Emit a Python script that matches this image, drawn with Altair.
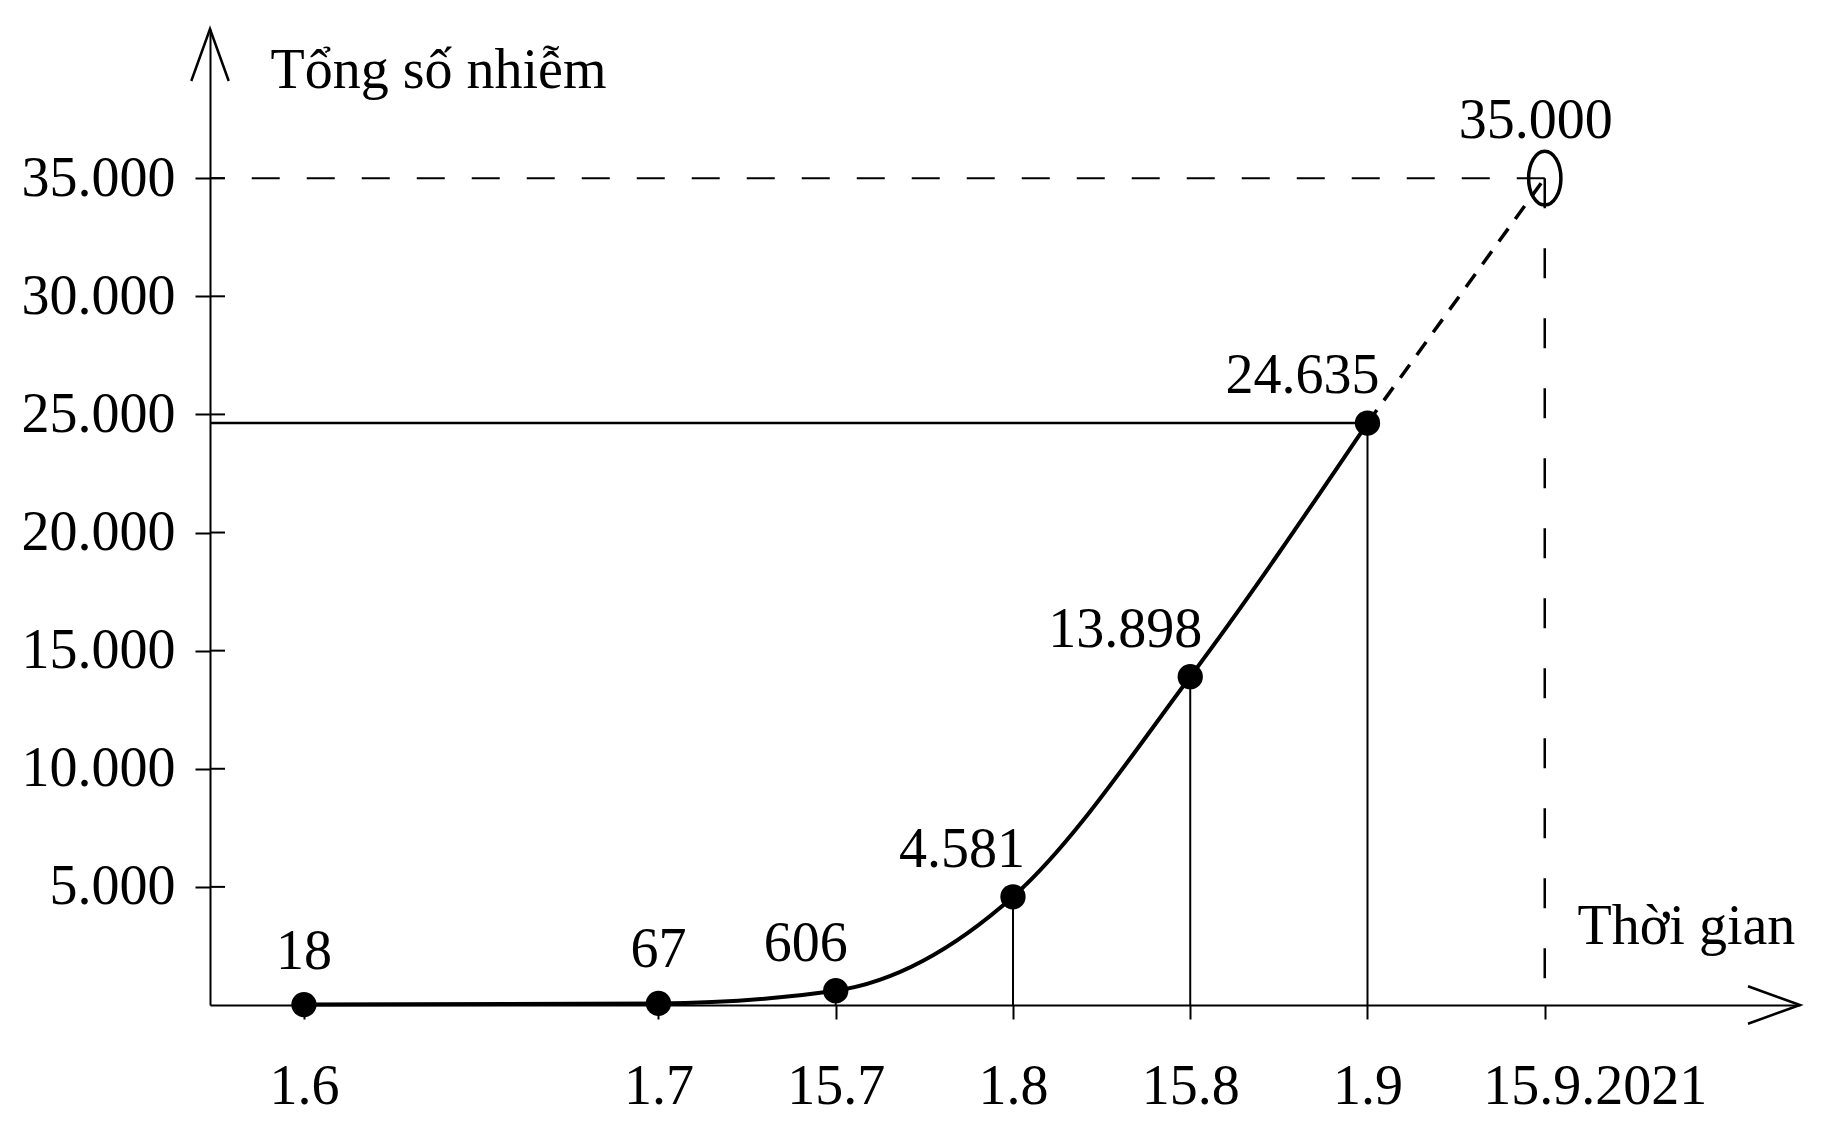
import altair as alt
import pandas as pd

# ---- data ----
dates = ["1.6", "1.7", "15.7", "1.8", "15.8", "1.9"]
slots = [0, 2, 3, 4, 5, 6]          # x slot of each date on the drawn time axis
cases = [18, 67, 606, 4581, 13898, 24635]
proj_date = "15.9.2021"
proj_slot = 7
proj_cases = 35000
y_ticks = [5000, 10000, 15000, 20000, 25000, 30000, 35000]
y_title = "Tổng số nhiễm"
x_title = "Thời gian"

FONT = "Liberation Serif"
FS = 56


def fmt(v):
    return f"{v:,}".replace(",", ".")


main = pd.DataFrame({"date": dates, "slot": slots, "cases": cases,
                     "label": [fmt(v) for v in cases]})
proj = pd.DataFrame({"slot": [slots[-1], proj_slot], "cases": [cases[-1], proj_cases]})
end = pd.DataFrame({"slot": [proj_slot], "cases": [proj_cases], "label": [fmt(proj_cases)]})
peak = main.tail(1)
yt = pd.DataFrame({"cases": y_ticks})
one = pd.DataFrame({"a": [0]})

all_slots = slots + [proj_slot]
all_labels = dates + [proj_date]
lab_arr = [""] * (max(all_slots) + 1)
for s, l in zip(all_slots, all_labels):
    lab_arr[s] = l
x_label_expr = "[" + ",".join("'" + l + "'" for l in lab_arr) + "][datum.value]"

xs = alt.Scale(domain=[-0.53, 8.44], nice=False, zero=False)
ys = alt.Scale(domain=[0, 41315], nice=False, zero=False)

x_axis = alt.Axis(values=all_slots, labelExpr=x_label_expr, grid=False,
                  tickSize=14, tickWidth=2, tickColor="black",
                  domainColor="black", domainWidth=2,
                  labelFont=FONT, labelFontSize=FS, labelColor="black",
                  labelPadding=40, labelFlush=False, labelOverlap=False,
                  labelLimit=0,
                  labelOffset={"condition": {"test": f"datum.value == {proj_slot}",
                                             "value": 50},
                               "value": 0},
                  title=x_title, titleFont=FONT, titleFontSize=FS,
                  titleFontWeight="normal", titleColor="black",
                  titleAngle=0, titleAlign="left", titleBaseline="alphabetic",
                  titleX=1367, titleY=-62)
y_axis = alt.Axis(values=y_ticks,
                  labelExpr="replace(format(datum.value, ','), ',', '.')",
                  grid=False, tickSize=15, tickWidth=2, tickColor="black",
                  domainColor="black", domainWidth=2,
                  labelFont=FONT, labelFontSize=FS, labelColor="black",
                  labelPadding=20, labelFlush=False, labelOverlap=False,
                  labelLimit=0,
                  title=y_title, titleFont=FONT, titleFontSize=FS,
                  titleFontWeight="normal", titleColor="black",
                  titleAngle=0, titleAlign="left", titleBaseline="alphabetic",
                  titleX=60, titleY=58)

X = alt.X("slot:Q", scale=xs, axis=x_axis)
Y = alt.Y("cases:Q", scale=ys, axis=y_axis)

curve = alt.Chart(main).mark_line(color="black", strokeWidth=4,
                                  interpolate="monotone").encode(x=X, y=Y)

proj_line = alt.Chart(proj).mark_line(color="black", strokeWidth=3.5,
                                      strokeDash=[16, 12]).encode(x=X, y=Y)

drops = alt.Chart(main).mark_rule(color="black", strokeWidth=2).encode(
    x=X, y=Y, y2=alt.datum(0))

hline = alt.Chart(peak).mark_rule(color="black", strokeWidth=2.5).encode(
    x=X, x2=alt.value(0), y=Y)

dash_h = alt.Chart(end).mark_rule(color="black", strokeWidth=2,
                                  strokeDash=[28, 27]).encode(
    x=X, x2=alt.value(0), y=Y)

dash_v = alt.Chart(end).mark_rule(color="black", strokeWidth=2.5,
                                  strokeDash=[30, 40]).encode(
    x=X, y=Y, y2=alt.datum(0))

inner_ticks = alt.Chart(yt).mark_rule(color="black", strokeWidth=2).encode(
    x=alt.value(0), x2=alt.value(15), y=Y)

dots = alt.Chart(main).mark_point(shape="circle", filled=True, color="black",
                                  size=640, opacity=1).encode(x=X, y=Y)

ring = alt.Chart(end).mark_point(
    shape="M0,-1A0.6,1,0,1,1,0,1A0.6,1,0,1,1,0,-1Z",
    filled=False, color="black", strokeWidth=3.5, size=2900, opacity=1).encode(x=X, y=Y)

lab_c = alt.Chart(main).transform_filter("datum.slot < 3").mark_text(
    font=FONT, fontSize=FS, color="black", align="center",
    baseline="alphabetic", dy=-36).encode(x=X, y=Y, text="label:N")

lab_r = alt.Chart(main).transform_filter("datum.slot >= 3").mark_text(
    font=FONT, fontSize=FS, color="black", align="right",
    baseline="alphabetic", dx=12, dy=-30).encode(x=X, y=Y, text="label:N")

lab_end = alt.Chart(end).mark_text(
    font=FONT, fontSize=FS, color="black", align="center",
    baseline="alphabetic", dx=-9, dy=-40).encode(x=X, y=Y, text="label:N")

arrow_y = alt.Chart(one).mark_point(
    shape="M-0.36,1L0,0L0.36,1", filled=False, color="black",
    strokeWidth=2.5, size=10816, opacity=1).encode(x=alt.value(0), y=alt.value(0))

arrow_x = alt.Chart(one).mark_point(
    shape="M-1,-0.36L0,0L-1,0.36", filled=False, color="black",
    strokeWidth=2.5, size=10816, opacity=1).encode(x=alt.value(1590), y=alt.value(976))

chart = alt.layer(
    curve, proj_line, drops, hline, dash_h, dash_v, inner_ticks,
    dots, ring, lab_c, lab_r, lab_end, arrow_y, arrow_x
).properties(
    width=1590, height=976,
    padding={"left": 202, "top": 21, "right": 14, "bottom": 122},
    autosize=alt.AutoSizeParams(type="none"),
    background="white",
).configure_view(stroke=None)

chart.save("out.html", embed_options={"renderer": "svg", "actions": False})
